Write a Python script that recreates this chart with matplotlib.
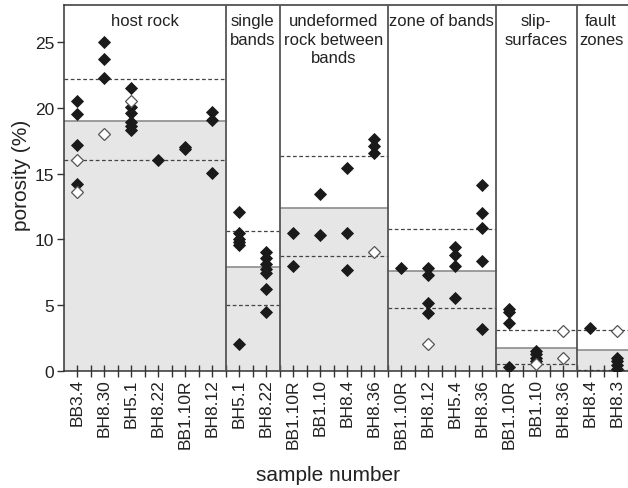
import numpy as np
import matplotlib
matplotlib.use("Agg")
import matplotlib.pyplot as plt

plt.rcParams['font.family'] = ['Liberation Sans', 'DejaVu Sans']

# groups of samples (header text, number of samples in group)
groups = ["host rock", "single\nbands", "undeformed\nrock between\nbands",
          "zone of bands", "slip-\nsurfaces", "fault\nzones"]
group_sizes = [6, 2, 4, 4, 3, 2]
group_mean = [19.0, 7.9, 12.35, 7.6, 1.7, 1.6]
group_upper = [22.2, 10.65, 16.35, 10.8, 3.1, 3.12]
group_lower = [16.0, 5.0, 8.7, 4.75, 0.5, 0.08]

sample_labels = ["BB3.4", "BH8.30", "BH5.1", "BH8.22", "BB1.10R", "BH8.12",
                 "BH5.1", "BH8.22",
                 "BB1.10R", "BB1.10", "BH8.4", "BH8.36",
                 "BB1.10R", "BH8.12", "BH5.4", "BH8.36",
                 "BB1.10R", "BB1.10", "BH8.36",
                 "BH8.4", "BH8.3"]

# porosity values per sample (filled = one method, open = other)
filled = [
    [20.5, 19.5, 17.2, 14.2],
    [25.0, 23.7, 22.3],
    [21.5, 20.1, 19.6, 18.9, 18.6, 18.3],
    [16.0],
    [17.0, 16.9],
    [19.7, 19.1, 15.05],
    [12.05, 10.5, 10.05, 9.8, 9.55, 2.0],
    [9.05, 8.55, 8.1, 7.75, 7.4, 6.2, 4.5],
    [10.45, 7.95],
    [13.45, 10.35],
    [15.45, 10.45, 7.65],
    [17.6, 17.1, 16.6],
    [7.85],
    [7.8, 7.25, 5.15, 4.4],
    [9.4, 8.8, 8.0, 5.5],
    [14.1, 12.0, 10.85, 8.35, 3.2],
    [4.7, 4.45, 3.65, 0.3],
    [1.5, 1.25, 1.0, 0.75],
    [],
    [3.25],
    [1.0, 0.75, 0.4, 0.13],
]
open_vals = [
    [16.0, 13.6],
    [18.0],
    [20.5],
    [],
    [],
    [],
    [],
    [],
    [],
    [],
    [],
    [9.05],
    [],
    [2.0],
    [],
    [],
    [],
    [0.5],
    [3.05, 0.97],
    [],
    [3.05],
]

W, H = 628, 489
fig = plt.figure(figsize=(W / 100, H / 100), dpi=100)
x_left, x_right = 63.8, 630.8
y_bot, y_top = 371.7, 6.3
ax = fig.add_axes([x_left / W, 1 - y_bot / H, (x_right - x_left) / W, (y_bot - y_top) / H])

edges = np.concatenate([[0], 2 * np.cumsum(group_sizes)])
xmax = edges[-1]
ax.set_xlim(0, xmax)
ax.set_ylim(0, 27.8)

for i, name in enumerate(groups):
    x0, x1 = edges[i], edges[i + 1]
    ax.fill_between([x0, x1], 0, group_mean[i], color="#e6e6e6", lw=0, zorder=1)
    ax.plot([x0, x1], [group_mean[i]] * 2, color="#8c8c8c", lw=1.2, zorder=2)
    for v in (group_upper[i], group_lower[i]):
        ax.plot([x0, x1], [v, v], color="#444444", lw=0.9, ls=(0, (3, 2)), zorder=2)
    if i > 0:
        ax.axvline(x0, color="#555555", lw=1.3, zorder=3)
    xc = (x0 + min(x1, 41.6)) / 2
    ax.text(xc, 27.2, name, ha="center", va="top", fontsize=12,
            color="#222222", linespacing=1.28, zorder=5)

xs = 2 * np.arange(len(sample_labels)) + 1
for x, f, o in zip(xs, filled, open_vals):
    if f:
        ax.plot([x] * len(f), f, ls="none", marker="D", ms=5.8,
                mfc="#1a1a1a", mec="#1a1a1a", mew=0.6, zorder=4)
    if o:
        ax.plot([x] * len(o), o, ls="none", marker="D", ms=6.0,
                mfc="white", mec="#555555", mew=0.9, zorder=4)

ax.set_xticks(xs)
ax.set_xticklabels(sample_labels, rotation=90, fontsize=12.5, color="#222222")
ax.set_xticks(np.arange(1, xmax), minor=True)
ax.tick_params(axis="x", which="both", direction="inout", length=9, width=1,
               color="#333333", pad=1)
ax.set_yticks([0, 5, 10, 15, 20, 25])
ax.tick_params(axis="y", direction="out", length=5, width=1, color="#333333",
               labelsize=12.5, labelcolor="#222222", pad=2)

for s in ax.spines.values():
    s.set_color("#333333")
    s.set_linewidth(1.1)

ax.set_ylabel("porosity (%)", fontsize=15, color="#222222")
ax.yaxis.set_label_coords(-0.058, 0.538)
ax.set_xlabel("sample number", fontsize=15, color="#222222")
ax.xaxis.set_label_coords(0.4655, -0.258)

fig.savefig("out.png", dpi=100)
